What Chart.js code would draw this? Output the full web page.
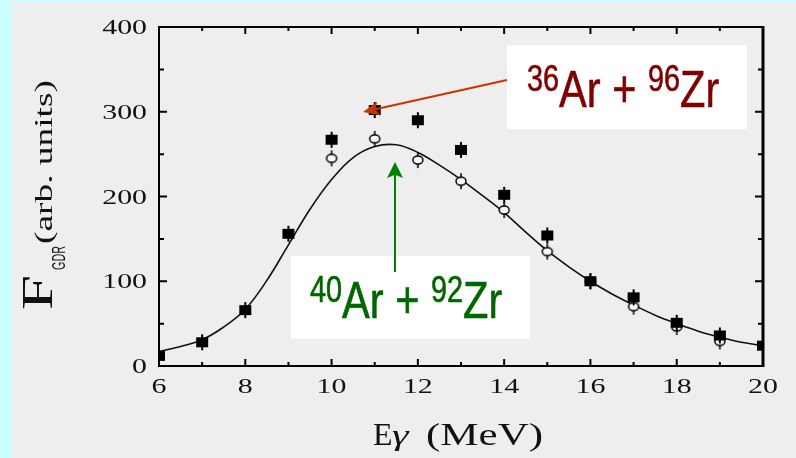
<!DOCTYPE html>
<html>
<head>
<meta charset="utf-8">
<script src="https://cdn.jsdelivr.net/npm/chart.js@4.4.1/dist/chart.umd.min.js"></script>
<style>
  html, body { margin: 0; padding: 0; background: #ccffff; }
  #wrap { width: 796px; height: 458px; }
</style>
</head>
<body>
<div id="wrap"><canvas id="gdr" width="796" height="458"></canvas></div>
<script>
// GDR strength vs gamma energy, 36Ar+96Zr (filled) and 40Ar+92Zr (open) with fit
const energies = [6, 7, 8, 9, 10, 11, 12, 13, 14, 15, 16, 17, 18, 19, 20];
const ar36Zr96 = [12, 28, 66, 156, 267, 302, 290, 255, 202, 154, 100, 81, 51, 36, 24];
const openEnergies = [10, 11, 12, 13, 14, 15, 16, 17, 18, 19];
const ar40Zr92 = [245, 268, 243, 218, 184, 135, 100, 70, 46, 29];
const fitEnergies = [6, 6.5, 7, 7.5, 8, 8.5, 9, 9.5, 10, 10.5, 11, 11.5, 12, 12.5, 13,
  13.5, 14, 14.5, 15, 15.5, 16, 16.5, 17, 17.5, 18, 18.5, 19, 19.5, 20];
const fitValues = [17, 23, 31, 46, 67, 101, 143, 185, 220, 246, 259, 261, 252, 237, 220,
  201, 181, 158, 136, 117, 100, 85, 72, 60, 50, 41, 34, 28, 24];
const xTickLabels = [6, 8, 10, 12, 14, 16, 18, 20];
const yTickLabels = [0, 100, 200, 300, 400];

const SERIF = '"Liberation Serif", "Times New Roman", serif';
const SANS = '"Liberation Sans", Arial, sans-serif';

const toPoints = (xs, ys) => xs.map((x, i) => ({ x: x, y: ys[i] }));

// filled square with short error bar
function squareMark() {
  const c = document.createElement('canvas');
  c.width = 14; c.height = 18;
  const g = c.getContext('2d');
  g.fillStyle = '#000';
  g.fillRect(1, 4, 12, 10);
  g.fillRect(6, 1, 2, 16);
  return c;
}

// open circle with short error bar
function circleMark() {
  const c = document.createElement('canvas');
  c.width = 14; c.height = 18;
  const g = c.getContext('2d');
  g.strokeStyle = '#000';
  g.lineWidth = 1.5;
  g.beginPath();
  g.moveTo(7, 1); g.lineTo(7, 5);
  g.moveTo(7, 13); g.lineTo(7, 17);
  g.stroke();
  g.beginPath();
  g.ellipse(7, 9, 5, 4, 0, 0, Math.PI * 2);
  g.fillStyle = '#fafafa';
  g.fill();
  g.stroke();
  return c;
}

// text squeezed or widened along its run direction to a given width
function fitText(ctx, str, x, y, font, width) {
  ctx.save();
  ctx.font = font;
  const w = ctx.measureText(str).width;
  ctx.translate(x, y);
  ctx.scale(width / w, 1);
  ctx.textAlign = 'left';
  ctx.fillText(str, 0, 0);
  ctx.restore();
}

function wideText(ctx, str, x, y, font, sx, align) {
  ctx.save();
  ctx.font = font;
  const w = ctx.measureText(str).width * sx;
  let left = x;
  if (align === 'center') left = x - w / 2;
  if (align === 'right') left = x - w;
  ctx.translate(left, y);
  ctx.scale(sx, 1);
  ctx.textAlign = 'left';
  ctx.fillText(str, 0, 0);
  ctx.restore();
  return w;
}

// isotope label: superscript mass numbers + element symbols, condensed sans
function isotopeLabel(ctx, parts, x, y, color) {
  const big = '52px ' + SANS;
  const small = '36px ' + SANS;
  const squeeze = 0.8;
  ctx.save();
  ctx.fillStyle = color;
  ctx.strokeStyle = color;
  ctx.lineWidth = 0.6;
  ctx.textAlign = 'left';
  ctx.textBaseline = 'alphabetic';
  ctx.translate(x, y);
  ctx.scale(squeeze, 1);
  let cx = 0;
  parts.forEach(p => {
    ctx.font = p.sup ? small : big;
    ctx.fillText(p.t, cx, p.sup ? -16 : 0);
    ctx.strokeText(p.t, cx, p.sup ? -16 : 0);
    cx += ctx.measureText(p.t).width;
  });
  ctx.restore();
}

function arrow(ctx, x0, y0, x1, y1, color, len, half) {
  const a = Math.atan2(y1 - y0, x1 - x0);
  ctx.save();
  ctx.strokeStyle = color;
  ctx.fillStyle = color;
  ctx.lineWidth = 2;
  ctx.beginPath();
  ctx.moveTo(x0, y0);
  ctx.lineTo(x1 - Math.cos(a) * len * 0.8, y1 - Math.sin(a) * len * 0.8);
  ctx.stroke();
  ctx.translate(x1, y1);
  ctx.rotate(a);
  ctx.beginPath();
  ctx.moveTo(0, 0);
  ctx.lineTo(-len, -half);
  ctx.lineTo(-len * 0.8, 0);
  ctx.lineTo(-len, half);
  ctx.closePath();
  ctx.fill();
  ctx.restore();
}

const panel = {
  id: 'panel',
  beforeDraw(chart) {
    const ctx = chart.ctx;
    ctx.save();
    ctx.fillStyle = '#ccffff';
    ctx.fillRect(0, 0, chart.width, chart.height);
    ctx.fillStyle = '#eeeeee';
    ctx.fillRect(12, 2, chart.width - 12, chart.height - 2);
    ctx.restore();
  },
  afterDatasetsDraw(chart) {
    const ctx = chart.ctx;
    const area = chart.chartArea;
    const xs = chart.scales.x;
    const ys = chart.scales.y;
    ctx.save();

    // frame
    ctx.strokeStyle = '#000';
    ctx.lineWidth = 2;
    ctx.strokeRect(area.left, area.top, area.right - area.left, area.bottom - area.top);
    ctx.lineWidth = 3;
    ctx.beginPath();
    ctx.moveTo(area.right, area.top - 1);
    ctx.lineTo(area.right, area.bottom + 1);
    ctx.stroke();

    // inward ticks
    ctx.lineWidth = 2;
    ctx.beginPath();
    for (let e = 6; e <= 20; e++) {
      const px = xs.getPixelForValue(e);
      const len = e % 2 === 0 ? 7 : 4;
      ctx.moveTo(px, area.bottom); ctx.lineTo(px, area.bottom - len);
      ctx.moveTo(px, area.top); ctx.lineTo(px, area.top + len);
    }
    for (let v = 0; v <= 400; v += 50) {
      const py = ys.getPixelForValue(v);
      const len = v % 100 === 0 ? 8 : 5;
      ctx.moveTo(area.left, py); ctx.lineTo(area.left + len, py);
      ctx.moveTo(area.right, py); ctx.lineTo(area.right - len, py);
    }
    ctx.stroke();

    // tick labels
    ctx.fillStyle = '#111';
    ctx.textBaseline = 'alphabetic';
    yTickLabels.forEach(v => {
      wideText(ctx, String(v), area.left - 12, ys.getPixelForValue(v) + 7,
        '21px ' + SERIF, 1.42, 'right');
    });
    xTickLabels.forEach(v => {
      wideText(ctx, String(v), xs.getPixelForValue(v), area.bottom + 27,
        '22px ' + SERIF, 1.36, 'center');
    });

    // x title
    ctx.font = '32px ' + SERIF;
    ctx.textAlign = 'left';
    ctx.fillText('E', 373, 445);
    wideText(ctx, '\u03b3', 392, 445, 'italic 30px ' + SERIF, 1.4, 'left');
    fitText(ctx, '(MeV)', 426, 445, '32px ' + SERIF, 117);

    // y title, rotated
    ctx.save();
    ctx.translate(52, 310);
    ctx.rotate(-Math.PI / 2);
    fitText(ctx, 'F', 0, 0, '44px ' + SERIF, 35);
    fitText(ctx, 'GDR', 40, 13, '18px ' + SANS, 24);
    fitText(ctx, '(arb. units)', 66, 0, '25px ' + SERIF, 164);
    ctx.restore();

    // annotation boxes and arrows
    ctx.fillStyle = '#ffffff';
    ctx.fillRect(507, 45, 240, 84);
    ctx.fillRect(291, 256, 239, 83);
    isotopeLabel(ctx, [{ t: '36', sup: true }, { t: 'Ar + ' }, { t: '96', sup: true }, { t: 'Zr' }],
      527, 107, '#800000');
    isotopeLabel(ctx, [{ t: '40', sup: true }, { t: 'Ar + ' }, { t: '92', sup: true }, { t: 'Zr' }],
      310, 318, '#006600');
    arrow(ctx, 507, 80, 363, 112, '#cc3300', 16, 7);
    arrow(ctx, 395, 272, 395, 162, '#008000', 16, 8);

    ctx.restore();
  }
};

new Chart(document.getElementById('gdr').getContext('2d'), {
  type: 'scatter',
  data: {
    datasets: [
      {
        label: '36Ar + 96Zr',
        data: toPoints(energies, ar36Zr96),
        pointStyle: squareMark(),
        pointRadius: 6,
        order: 0
      },
      {
        label: '40Ar + 92Zr',
        data: toPoints(openEnergies, ar40Zr92),
        pointStyle: circleMark(),
        pointRadius: 6,
        order: 1
      },
      {
        label: 'fit',
        data: toPoints(fitEnergies, fitValues),
        showLine: true,
        pointRadius: 0,
        borderColor: '#111',
        borderWidth: 1.6,
        tension: 0.4,
        order: 2
      }
    ]
  },
  options: {
    responsive: false,
    animation: false,
    devicePixelRatio: 1,
    layout: { padding: { left: 0, top: 27, right: 33, bottom: 0 } },
    scales: {
      x: {
        type: 'linear',
        min: 6,
        max: 20,
        ticks: { display: false, stepSize: 1 },
        grid: { display: false },
        border: { display: false },
        afterFit: s => { s.height = 92; }
      },
      y: {
        min: 0,
        max: 400,
        ticks: { display: false, stepSize: 50 },
        grid: { display: false },
        border: { display: false },
        afterFit: s => { s.width = 159; }
      }
    },
    plugins: {
      legend: { display: false },
      tooltip: { enabled: false }
    }
  },
  plugins: [panel]
});
</script>
</body>
</html>
